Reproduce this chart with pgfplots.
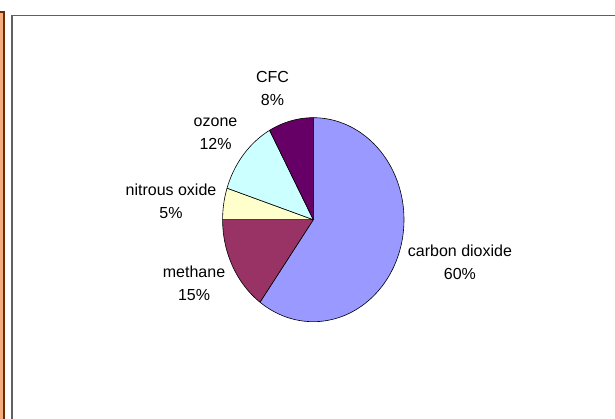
\documentclass[border=0pt]{standalone}
\usepackage{pgfplots}
\pgfplotsset{compat=1.18}
\usepackage{fontspec}
\setmainfont{Liberation Sans}
\definecolor{co2}{HTML}{9999FF}
\definecolor{meth}{HTML}{993366}
\definecolor{nitro}{HTML}{FFFFCC}
\definecolor{ozon}{HTML}{CCFFFF}
\definecolor{cfc}{HTML}{660066}
\definecolor{framegray}{HTML}{606060}
\definecolor{stripor}{HTML}{F5AE82}
\definecolor{stripbr}{HTML}{6E2C00}
% percentages (clockwise from 12 o'clock)
\def\pA{60}\def\pB{15}\def\pC{5}\def\pD{12}\def\pE{8}
\begin{document}
\begin{tikzpicture}
\useasboundingbox (0pt,0pt) rectangle (615pt,419pt);
\fill[white] (0pt,0pt) rectangle (615pt,419pt);
% left orange strip
\fill[stripor] (-2pt,-2pt) rectangle (4pt,407.2pt);
\draw[stripbr,line width=1.5pt] (-2pt,407.2pt) -- (4pt,407.2pt) -- (4pt,-2pt);
% chart frame
\draw[framegray,line width=1.6pt] (12pt,-3pt) -- (12pt,403.4pt) -- (620pt,403.4pt);
\begin{axis}[
  at={(313.3pt,199.3pt)}, anchor=origin,
  x=90.7pt, y=102pt,
  xmin=-1, xmax=1, ymin=-1, ymax=1,
  hide axis, clip=false,
  every axis plot/.append style={draw=black, line width=0.6pt, line join=round},
]
\pgfmathsetmacro{\aA}{90}
\pgfmathsetmacro{\aB}{90-3.6*\pA}
\pgfmathsetmacro{\aC}{90-3.6*(\pA+\pB)}
\pgfmathsetmacro{\aD}{90-3.6*(\pA+\pB+\pC)}
\pgfmathsetmacro{\aE}{90-3.6*(\pA+\pB+\pC+\pD)}
\pgfmathsetmacro{\aF}{90-3.6*(\pA+\pB+\pC+\pD+\pE)}
\addplot[fill=co2, domain=\aB:\aA, samples=120] ({cos(x)},{sin(x)}) -- (axis cs:0,0) -- cycle;
\addplot[fill=meth, domain=\aC:\aB, samples=40] ({cos(x)},{sin(x)}) -- (axis cs:0,0) -- cycle;
\addplot[fill=nitro, domain=\aD:\aC, samples=20] ({cos(x)},{sin(x)}) -- (axis cs:0,0) -- cycle;
\addplot[fill=ozon, domain=\aE:\aD, samples=40] ({cos(x)},{sin(x)}) -- (axis cs:0,0) -- cycle;
\addplot[fill=cfc, domain=\aF:\aE, samples=30] ({cos(x)},{sin(x)}) -- (axis cs:0,0) -- cycle;
\tikzset{lbl/.style={align=center, inner sep=0pt, font=\fontsize{16}{23}\selectfont}}
\node[lbl] at (axis cs:-0.450,1.291) {CFC\\\pE\%};
\node[lbl] at (axis cs:-1.078,0.845) {ozone\\\pD\%};
\node[lbl] at (axis cs:-1.569,0.183) {nitrous oxide\\\pC\%};
\node[lbl] at (axis cs:-1.315,-0.621) {methane\\\pB\%};
\node[lbl] at (axis cs:1.617,-0.419) {carbon dioxide\\\pA\%};
\end{axis}
\end{tikzpicture}
\end{document}
